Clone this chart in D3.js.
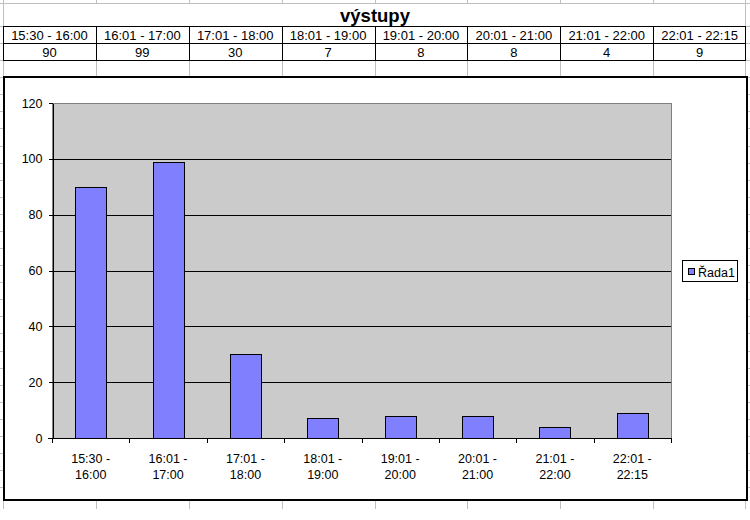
<!DOCTYPE html>
<html>
<head>
<meta charset="utf-8">
<script src="https://cdn.jsdelivr.net/npm/d3@7"></script>
<style>
  html, body { margin: 0; padding: 0; background: #fff; }
  svg { display: block; font-family: "Liberation Sans", Arial, sans-serif; }
</style>
</head>
<body>
<script>
const title = "výstupy";
const seriesName = "Řada1";
const categories = ["15:30 - 16:00", "16:01 - 17:00", "17:01 - 18:00", "18:01 - 19:00",
                    "19:01 - 20:00", "20:01 - 21:00", "21:01 - 22:00", "22:01 - 22:15"];
const values = [90, 99, 30, 7, 8, 8, 4, 9];
const yTicks = [0, 20, 40, 60, 80, 100, 120];

const W = 750, H = 520, sheetH = 509;
const svg = d3.select("body").append("svg").attr("width", W).attr("height", H);
const gridColor = "#c0c0c0";

// spreadsheet columns (table) scale
const tx = d3.scaleBand().domain(categories).range([3, 746]);
const colEdges = categories.map(c => Math.round(tx(c)) + 0.5).concat([745.5]);

// spreadsheet grid background
const grid = svg.append("g").attr("shape-rendering", "crispEdges");
const rowLines = [3.5].concat(d3.range(0, 28).map(i => Math.round(26 + i * 17.08) + 0.5));
grid.selectAll("line.r").data(rowLines).join("line")
  .attr("x1", 0).attr("x2", W).attr("y1", d => d).attr("y2", d => d)
  .attr("stroke", gridColor);
grid.selectAll("line.c").data(colEdges).join("line")
  .attr("x1", d => d).attr("x2", d => d).attr("y1", 0).attr("y2", sheetH)
  .attr("stroke", gridColor);

// merged title cell
svg.append("rect").attr("x", 4).attr("y", 4).attr("width", 741).attr("height", 22).attr("fill", "#fff");
svg.append("text").attr("x", 375).attr("y", 22).attr("text-anchor", "middle")
  .attr("font-size", 18.5).attr("font-weight", "bold").text(title);

// data table
const tbl = svg.append("g").attr("shape-rendering", "crispEdges");
const tTop = 26.5, tMid = 43.5, tBot = 60.5;
tbl.append("rect").attr("x", 3).attr("y", tTop).attr("width", 742.5).attr("height", tBot - tTop)
  .attr("fill", "#fff").attr("stroke", "#000");
tbl.append("line").attr("x1", 3).attr("x2", 745.5).attr("y1", tMid).attr("y2", tMid).attr("stroke", "#000");
tbl.selectAll("line.v").data(colEdges.slice(1, -1)).join("line")
  .attr("x1", d => d).attr("x2", d => d).attr("y1", tTop).attr("y2", tBot).attr("stroke", "#000");
svg.selectAll("text.hdr").data(categories).join("text")
  .attr("x", d => tx(d) + tx.bandwidth() / 2).attr("y", 40)
  .attr("text-anchor", "middle").attr("font-size", 13).text(d => d);
svg.selectAll("text.val").data(values).join("text")
  .attr("x", (d, i) => tx(categories[i]) + tx.bandwidth() / 2).attr("y", 57)
  .attr("text-anchor", "middle").attr("font-size", 13).text(d => d);

// chart area
svg.append("rect").attr("x", 4).attr("y", 77).attr("width", 743).attr("height", 423)
  .attr("fill", "#fff").attr("stroke", "#000").attr("stroke-width", 2);

const pl = 52, pr = 671, pt = 103, pb = 438;
const x = d3.scaleBand().domain(categories).range([pl, pr]);
const y = d3.scaleLinear().domain([0, 120]).range([pb, pt]);

const plot = svg.append("g").attr("shape-rendering", "crispEdges");
plot.append("rect").attr("x", pl).attr("y", pt + 0.5).attr("width", pr - pl + 0.5).attr("height", pb - pt)
  .attr("fill", "#cbcbcb").attr("stroke", "#808080");

// gridlines
plot.selectAll("line.g").data(yTicks.filter(t => t > 0 && t < 120)).join("line")
  .attr("x1", pl).attr("x2", pr).attr("y1", d => Math.round(y(d)) + 0.5).attr("y2", d => Math.round(y(d)) + 0.5)
  .attr("stroke", "#000");

// bars
plot.selectAll("rect.bar").data(values).join("rect")
  .attr("x", (d, i) => Math.round(x(categories[i]) + x.bandwidth() * 0.3) + 0.5)
  .attr("y", d => Math.round(y(d)) + 0.5)
  .attr("width", Math.round(x.bandwidth() * 0.4))
  .attr("height", d => pb - Math.round(y(d)))
  .attr("fill", "#8080ff").attr("stroke", "#000");

// y axis
const yAxis = svg.append("g").attr("transform", `translate(${pl + 0.5},0)`)
  .call(d3.axisLeft(y).tickValues(yTicks).tickSize(4).tickSizeOuter(0).tickPadding(6));
yAxis.attr("shape-rendering", "crispEdges");
yAxis.selectAll("line, path").attr("stroke", "#000");
yAxis.selectAll("text").attr("font-size", 12.5).attr("font-family", "Liberation Sans, Arial, sans-serif").attr("fill", "#000");

// x axis
const xa = svg.append("g").attr("shape-rendering", "crispEdges");
xa.append("line").attr("x1", pl - 4).attr("x2", pr + 0.5).attr("y1", pb + 0.5).attr("y2", pb + 0.5).attr("stroke", "#000");
const xEdges = categories.map(c => x(c)).concat([pr]);
xa.selectAll("line.t").data(xEdges).join("line")
  .attr("x1", d => Math.round(d) + 0.5).attr("x2", d => Math.round(d) + 0.5)
  .attr("y1", pb).attr("y2", pb + 5).attr("stroke", "#000");
const lbl = svg.selectAll("text.xl").data(categories).join("text")
  .attr("text-anchor", "middle").attr("font-size", 12.5);
lbl.append("tspan").attr("x", d => x(d) + x.bandwidth() / 2).attr("y", 463).text(d => d.split(" - ")[0] + " -");
lbl.append("tspan").attr("x", d => x(d) + x.bandwidth() / 2).attr("y", 479).text(d => d.split(" - ")[1]);

// legend
const lg = svg.append("g").attr("shape-rendering", "crispEdges");
lg.append("rect").attr("x", 682.5).attr("y", 260.5).attr("width", 55).attr("height", 21)
  .attr("fill", "#fff").attr("stroke", "#000");
lg.append("rect").attr("x", 688.5).attr("y", 268.5).attr("width", 6).attr("height", 6)
  .attr("fill", "#8080ff").attr("stroke", "#000");
lg.append("text").attr("x", 698).attr("y", 277).attr("font-size", 12.5).text(seriesName);
</script>
</body>
</html>
